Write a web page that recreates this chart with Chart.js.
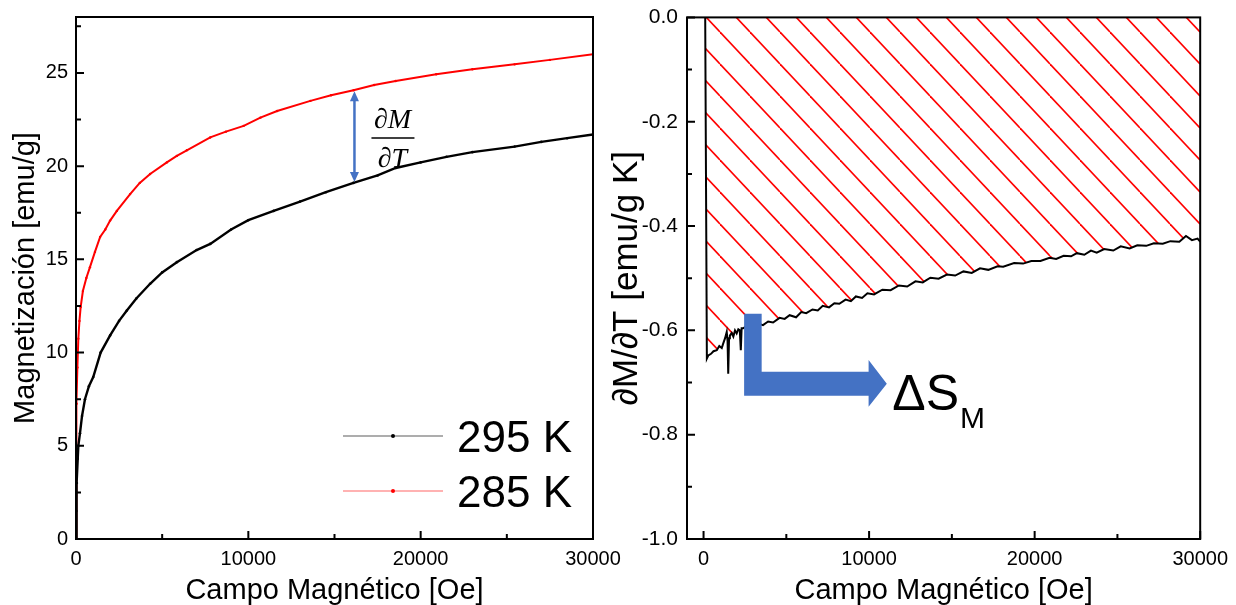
<!DOCTYPE html>
<html>
<head>
<meta charset="utf-8">
<script src="https://cdn.jsdelivr.net/npm/chart.js@4.4.1/dist/chart.umd.min.js"></script>
<style>
    html, body { margin: 0; padding: 0; background: #fff; }
    #wrap { position: relative; width: 1236px; height: 605px; overflow: hidden; }
    #left { position: absolute; left: 0; top: 0; width: 640px; height: 605px; }
    #right { position: absolute; left: 600px; top: 0; width: 636px; height: 605px; }
</style>
</head>
<body>
<div id="wrap">
    <canvas id="left" width="640" height="605"></canvas>
    <canvas id="right" width="636" height="605"></canvas>
</div>
<script>
// ---- left panel: M(H) at two temperatures ----
const field295 = [0, 20, 50, 100, 135, 230, 350, 520, 750, 1000, 1430, 1980, 2500, 2950, 3500, 4300, 5000, 5850, 7000, 7790, 9000, 10000, 11470, 13000, 14500, 16100, 17500, 18550, 20000, 21500, 23000, 25450, 27000, 28500, 30000];
const mag295 = [0, 1.5, 3.0, 4.3, 5.0, 5.67, 6.6, 7.5, 8.2, 8.69, 10.0, 10.92, 11.7, 12.26, 12.9, 13.69, 14.3, 14.85, 15.5, 15.83, 16.6, 17.1, 17.6, 18.1, 18.6, 19.1, 19.5, 19.9, 20.2, 20.5, 20.75, 21.05, 21.3, 21.5, 21.7];

const field285 = [0, 10, 20, 40, 80, 135, 200, 270, 400, 600, 810, 1100, 1400, 1700, 1980, 2370, 3140, 3700, 4300, 5270, 5850, 6430, 7790, 8700, 9730, 10700, 11670, 13600, 14800, 16100, 17300, 18550, 20900, 23000, 25450, 27500, 30000];
const mag285 = [0, 2.5, 4.5, 7.26, 9.2, 10.74, 11.7, 12.44, 13.3, 14.0, 14.58, 15.4, 16.2, 16.6, 17.08, 17.6, 18.5, 19.1, 19.58, 20.2, 20.55, 20.85, 21.54, 21.85, 22.16, 22.6, 22.96, 23.5, 23.8, 24.07, 24.35, 24.57, 24.93, 25.2, 25.46, 25.7, 26.0];

const seriesLabels = ["295 K", "285 K"];

// ---- right panel: dM/dT ----
const fieldDeriv = [100, 200, 290, 450, 600, 800, 950, 1100, 1190, 1300, 1400, 1450, 1490, 1540, 1590, 1700, 1800, 1900, 2000, 2100, 2190, 2250, 2300, 2390, 2500, 2700, 3000, 3300, 3590, 3900, 4200, 4590, 4900, 5200, 5590, 5900, 6200, 6580, 6900, 7200, 7580, 7900, 8200, 8580, 8900, 9200, 9575, 9900, 10300, 10800, 11300, 11800, 12300, 12800, 13240, 13700, 14200, 14700, 15200, 15700, 16200, 16700, 17200, 17760, 18100, 18760, 19300, 19800, 20350, 20900, 21300, 21750, 22200, 22550, 23000, 23400, 23750, 24200, 24750, 25200, 25740, 26200, 26740, 27200, 27740, 28200, 28740, 29140, 29500, 29840, 30000];
const dMdT = [0, -0.654, -0.648, -0.645, -0.640, -0.638, -0.630, -0.634, -0.625, -0.615, -0.603, -0.620, -0.683, -0.615, -0.610, -0.605, -0.612, -0.600, -0.606, -0.598, -0.600, -0.638, -0.596, -0.596,
    -0.594, -0.591, -0.594, -0.587, -0.590, -0.583, -0.585, -0.576, -0.578, -0.571, -0.575, -0.565, -0.567, -0.560, -0.562, -0.553, -0.556, -0.548, -0.549, -0.541, -0.544, -0.535, -0.538, -0.529, -0.531, -0.522, -0.523, -0.514, -0.516, -0.506, -0.508, -0.499, -0.501, -0.493, -0.495, -0.487, -0.490, -0.481, -0.484, -0.477, -0.478, -0.471, -0.472, -0.467, -0.467, -0.461, -0.463, -0.457, -0.458, -0.452, -0.455, -0.447, -0.451, -0.444, -0.447, -0.439, -0.443, -0.437, -0.438, -0.433, -0.434, -0.429, -0.430, -0.419, -0.427, -0.424, -0.430];

// ---- ticks ----
const xMajor = [0, 10000, 20000, 30000];
const xMinor = [5000, 15000, 25000];
const leftYMajor = [0, 5, 10, 15, 20, 25];
const leftYMinor = [2.5, 7.5, 12.5, 17.5, 22.5, 27.5];
const rightYMajor = [0, -0.2, -0.4, -0.6, -0.8, -1.0];
const rightYMinor = [-0.1, -0.3, -0.5, -0.7, -0.9];

Chart.defaults.font.family = '"Liberation Sans", Arial, sans-serif';
Chart.defaults.color = "#000";

const BLUE = "#4472C4";

function toXY(xs, ys) {
    return xs.map((x, i) => ({ x, y: ys[i] }));
}

function setTicks(major, minor) {
    return scale => {
        scale.ticks = major.concat(minor).sort((a, b) => a - b).map(v => ({ value: v }));
    };
}

function axis(major, minor, fmt, lineHeight, extra) {
    return Object.assign({
        type: "linear",
        afterBuildTicks: setTicks(major, minor),
        ticks: {
            autoSkip: false,
            maxRotation: 0,
            padding: 8,
            font: { size: 20, lineHeight },
            callback: v => major.includes(v) ? fmt(v) : ""
        },
        grid: { display: false, drawTicks: false },
        border: { display: false }
    }, extra);
}

// frame + inward ticks, Origin style
const frame = {
    id: "frame",
    afterDraw(chart, args, opts) {
        const { ctx, chartArea: a, scales: { x, y } } = chart;
        ctx.save();
        ctx.strokeStyle = "#000";
        ctx.lineWidth = 2;
        ctx.strokeRect(a.left, a.top, a.right - a.left, a.bottom - a.top);
        ctx.beginPath();
        x.ticks.forEach(t => {
            const px = x.getPixelForValue(t.value);
            const len = opts.xMajor.includes(t.value) ? 8 : 5;
            ctx.moveTo(px, a.bottom);
            ctx.lineTo(px, a.bottom - len);
        });
        y.ticks.forEach(t => {
            const py = y.getPixelForValue(t.value);
            const len = opts.yMajor.includes(t.value) ? 8 : 5;
            ctx.moveTo(a.left, py);
            ctx.lineTo(a.left + len, py);
        });
        ctx.stroke();
        ctx.restore();
    }
};

// legend drawn inside the plot, bottom right
const insideLegend = {
    id: "insideLegend",
    afterDraw(chart) {
        const { ctx, chartArea: a } = chart;
        const fades = ["rgba(0,0,0,0.32)", "rgba(255,0,0,0.3)"];
        ctx.save();
        chart.data.datasets.forEach((ds, i) => {
            const cy = 436 + i * 55;
            const x0 = a.right - 250;
            ctx.strokeStyle = fades[i];
            ctx.lineWidth = 2;
            ctx.beginPath();
            ctx.moveTo(x0, cy);
            ctx.lineTo(x0 + 100, cy);
            ctx.stroke();
            ctx.fillStyle = ds.borderColor;
            ctx.beginPath();
            ctx.arc(x0 + 50, cy, 2, 0, Math.PI * 2);
            ctx.fill();
            ctx.font = '44px "Liberation Sans", Arial, sans-serif';
            ctx.textBaseline = "alphabetic";
            ctx.fillStyle = "#000";
            ctx.fillText(ds.label, x0 + 114, cy + 16);
        });
        ctx.restore();
    }
};

function arrowHead(ctx, x, y, dir, w, h) {
    ctx.beginPath();
    ctx.moveTo(x, y);
    ctx.lineTo(x - w, y - dir * h);
    ctx.lineTo(x + w, y - dir * h);
    ctx.closePath();
    ctx.fill();
}

// double arrow between the two curves + dM/dT fraction
const gapArrow = {
    id: "gapArrow",
    afterDatasetsDraw(chart) {
        const { ctx, scales: { x, y } } = chart;
        const hAt = 16100;
        const top = mag285[field285.indexOf(hAt)];
        const bot = mag295[field295.indexOf(hAt)];
        const px = x.getPixelForValue(hAt) + 1;
        const y1 = y.getPixelForValue(top) + 1;
        const y2 = y.getPixelForValue(bot) - 1;
        ctx.save();
        ctx.strokeStyle = BLUE;
        ctx.fillStyle = BLUE;
        ctx.lineWidth = 2.5;
        ctx.beginPath();
        ctx.moveTo(px, y1 + 8);
        ctx.lineTo(px, y2 - 8);
        ctx.stroke();
        arrowHead(ctx, px, y1, -1, 4.5, 10);
        arrowHead(ctx, px, y2, 1, 4.5, 10);

        ctx.fillStyle = "#000";
        ctx.strokeStyle = "#000";
        ctx.font = 'italic 28px "Liberation Serif", "DejaVu Serif", serif';
        ctx.textAlign = "center";
        ctx.textBaseline = "alphabetic";
        const cx = px + 38;
        ctx.fillText("\u2202M", cx, 128);
        ctx.fillText("\u2202T", cx, 167);
        ctx.lineWidth = 1.5;
        ctx.beginPath();
        ctx.moveTo(cx - 21, 138);
        ctx.lineTo(cx + 22, 138);
        ctx.stroke();
        ctx.restore();
    }
};

// bent arrow with Delta S_M label
const bentArrow = {
    id: "bentArrow",
    afterDatasetsDraw(chart) {
        const { ctx, scales: { x, y } } = chart;
        const P = (a, b) => [x.getPixelForValue(a), y.getPixelForValue(b)];
        const pts = [
            P(2450, -0.568), P(3510, -0.568), P(3510, -0.6795), P(9970, -0.6795),
            P(9970, -0.657), P(11070, -0.7025), P(9970, -0.7466), P(9970, -0.7255),
            P(2450, -0.7255)
        ];
        ctx.save();
        ctx.fillStyle = BLUE;
        ctx.beginPath();
        pts.forEach((p, i) => i ? ctx.lineTo(p[0], p[1]) : ctx.moveTo(p[0], p[1]));
        ctx.closePath();
        ctx.fill();

        const [tx, ty] = P(11400, -0.753);
        ctx.fillStyle = "#000";
        ctx.textBaseline = "alphabetic";
        ctx.font = '50px "Liberation Sans", Arial, sans-serif';
        ctx.fillText("\u0394S", tx, ty);
        const w = ctx.measureText("\u0394S").width;
        ctx.font = '30px "Liberation Sans", Arial, sans-serif';
        ctx.fillText("M", tx + w + 1, ty + 18);
        ctx.restore();
    }
};

new Chart(document.getElementById("left"), {
    type: "line",
    data: {
        datasets: [
            {
                label: seriesLabels[0],
                data: toXY(field295, mag295),
                borderColor: "#000",
                backgroundColor: "#000",
                borderWidth: 2.4,
                pointRadius: 1.3,
                pointBorderWidth: 0,
                tension: 0
            },
            {
                label: seriesLabels[1],
                data: toXY(field285, mag285),
                borderColor: "#ff0000",
                backgroundColor: "#ff0000",
                borderWidth: 2,
                pointRadius: 1.2,
                pointBorderWidth: 0,
                tension: 0
            }
        ]
    },
    options: {
        responsive: false,
        animation: false,
        layout: { padding: { top: 17, right: 47, left: 0, bottom: 0 } },
        plugins: {
            legend: { display: false },
            tooltip: { enabled: false },
            frame: { xMajor, yMajor: leftYMajor }
        },
        scales: {
            x: axis(xMajor, xMinor, v => String(v), 1.2, {
                min: 0, max: 30000,
                title: { display: true, text: "Campo Magnético [Oe]", font: { size: 29 }, padding: { top: 0, bottom: -3 } },
                afterFit: s => { s.height = 66; }
            }),
            y: axis(leftYMajor, leftYMinor, v => String(v), 0.8, {
                min: 0, max: 28,
                title: { display: true, text: "Magnetización [emu/g]", font: { size: 29 }, padding: { top: 9, bottom: 0 } },
                afterFit: s => { s.width = 76; }
            })
        }
    },
    plugins: [frame, insideLegend, gapArrow]
});

// red hatch pattern for the area between the curve and zero
function hatch() {
    const w = 30, h = 32;
    const c = document.createElement("canvas");
    c.width = w; c.height = h;
    const g = c.getContext("2d");
    g.strokeStyle = "#ff0000";
    g.lineWidth = 1.6;
    [-w, 0, w].forEach(o => {
        g.beginPath();
        g.moveTo(o, 0);
        g.lineTo(o + w, h);
        g.stroke();
    });
    return g.createPattern(c, "repeat");
}

new Chart(document.getElementById("right"), {
    type: "line",
    data: {
        datasets: [{
            label: "dM/dT",
            data: toXY(fieldDeriv, dMdT),
            borderColor: "#000",
            backgroundColor: hatch(),
            borderWidth: 2,
            pointRadius: 0,
            fill: "end",
            tension: 0
        }]
    },
    options: {
        responsive: false,
        animation: false,
        layout: { padding: { top: 17, right: 32, left: 0, bottom: 0 } },
        plugins: {
            legend: { display: false },
            tooltip: { enabled: false },
            frame: { xMajor, yMajor: rightYMajor }
        },
        scales: {
            x: axis(xMajor, xMinor, v => String(v), 1.2, {
                min: -1000, max: 30000,
                title: { display: true, text: "Campo Magnético [Oe]", font: { size: 29 }, padding: { top: 0, bottom: -3 } },
                afterFit: s => { s.height = 66; }
            }),
            y: axis(rightYMajor, rightYMinor, v => v.toFixed(1), 0.8, {
                min: -1.0, max: 0.0,
                ticks: { autoSkip: false, padding: 9, font: { size: 21, lineHeight: 0.8 }, callback: v => rightYMajor.includes(v) ? v.toFixed(1) : "" },
                title: { display: true, text: "\u2202M/\u2202T [emu/g K]", font: { size: 35 }, padding: { top: 6, bottom: 0 } },
                afterFit: s => { s.width = 87; }
            })
        }
    },
    plugins: [frame, bentArrow]
});
</script>
</body>
</html>
